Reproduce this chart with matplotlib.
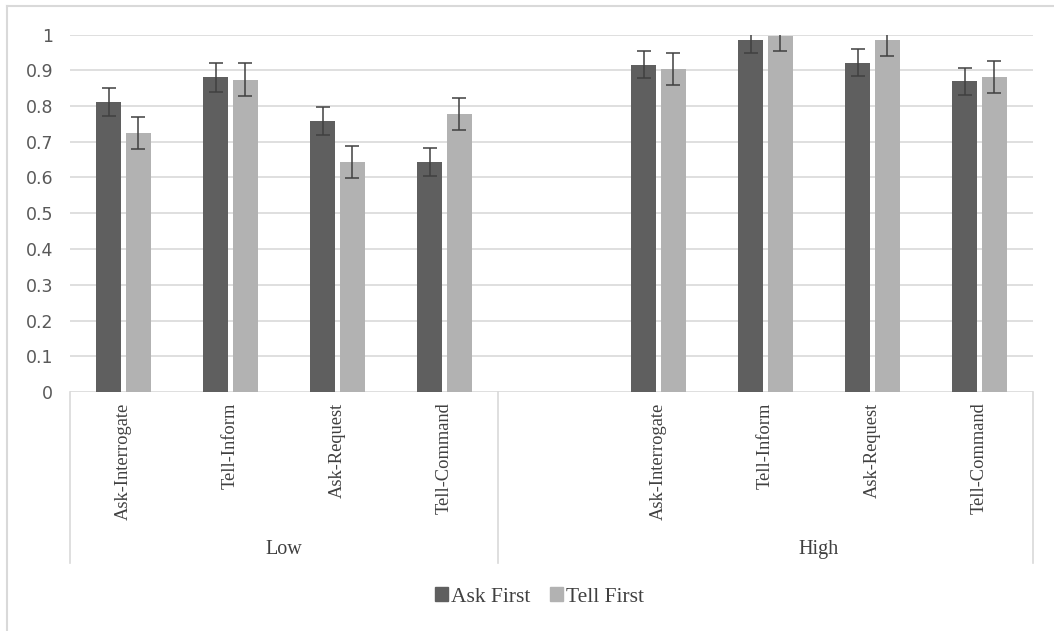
import numpy as np
import matplotlib.pyplot as plt
from matplotlib.patches import Patch
from matplotlib.lines import Line2D

# data
groups = ["Low", "High"]
conditions = ["Ask-Interrogate", "Tell-Inform", "Ask-Request", "Tell-Command"]
series_names = ["Ask First", "Tell First"]

low_ask = [0.81, 0.88, 0.758, 0.644]
low_tell = [0.725, 0.874, 0.644, 0.777]
high_ask = [0.915, 0.984, 0.921, 0.869]
high_tell = [0.904, 0.997, 0.984, 0.88]

low_ask_err = [0.039, 0.040, 0.040, 0.039]
low_tell_err = [0.044, 0.046, 0.044, 0.044]
high_ask_err = [0.038, 0.037, 0.038, 0.038]
high_tell_err = [0.044, 0.044, 0.043, 0.045]

dark = "#5f5f5f"
light = "#b2b2b2"
grid_col = "#d9d9d9"
err_col = "#404040"
serif = ["Liberation Serif", "DejaVu Serif"]

W, H = 1054, 631
fig = plt.figure(figsize=(W / 100, H / 100), dpi=100)
ax = fig.add_axes([70 / W, 1 - 392 / H, (1033 - 70) / W, (392 - 34.5) / H])

# 4 categories in Low, one empty slot, then 4 in High
x_low = np.arange(4)
x_high = np.arange(5, 9)
bw = 0.225
off = 0.14

ask_vals = low_ask + high_ask
tell_vals = low_tell + high_tell
ask_err = low_ask_err + high_ask_err
tell_err = low_tell_err + high_tell_err
xs = np.concatenate([x_low, x_high])

ax.bar(xs - off, ask_vals, bw, color=dark, zorder=2)
ax.bar(xs + off, tell_vals, bw, color=light, zorder=2)
ax.errorbar(xs - off, ask_vals, yerr=ask_err, fmt="none", ecolor=err_col,
            elinewidth=1.1, capsize=5, capthick=1.1, zorder=3)
ax.errorbar(xs + off, tell_vals, yerr=tell_err, fmt="none", ecolor=err_col,
            elinewidth=1.1, capsize=5, capthick=1.1, zorder=3)

ax.set_xlim(-0.5, 8.5)
ax.set_ylim(0, 1)
ax.set_yticks(np.arange(0, 1.01, 0.1))
ax.set_yticklabels(["0"] + [f"{v:.1f}" for v in np.arange(0.1, 0.95, 0.1)] + ["1"])
ax.tick_params(axis="y", length=0, pad=12, labelsize=12.5, labelcolor="#595959")
ax.set_xticks([])
for s in ax.spines.values():
    s.set_visible(False)
ax.yaxis.grid(True, color=grid_col, linewidth=1.2, zorder=0)
ax.set_axisbelow(True)

# multi-level category axis
tr = ax.get_xaxis_transform()
for x, lab in zip(xs, conditions + conditions):
    ax.text(x, -0.03, lab, transform=tr, rotation=90, ha="center", va="top",
            fontsize=13.3, family=serif, color="#404040")
ax.text(1.5, -0.44, groups[0], transform=tr, ha="center", va="center",
        fontsize=14.5, family=serif, color="#404040")
ax.text(6.5, -0.44, groups[1], transform=tr, ha="center", va="center",
        fontsize=14.5, family=serif, color="#404040")
for xv in [-0.5, 3.5, 8.5]:
    ax.plot([xv, xv], [0, -0.479], transform=tr, color=grid_col, lw=1.2,
            clip_on=False)

# outer chart border (only top and left visible)
fig.add_artist(Line2D([7 / W, 7 / W], [0, 1 - 6 / H], color=grid_col, lw=1.5))
fig.add_artist(Line2D([7 / W, 1], [1 - 6 / H, 1 - 6 / H], color=grid_col, lw=1.5))

handles = [Patch(color=dark, label=series_names[0]),
           Patch(color=light, label=series_names[1])]
fig.legend(handles=handles, loc="center", bbox_to_anchor=(0.512, 1 - 597 / H),
           ncol=2, frameon=False, handlelength=0.6, handleheight=0.6,
           handletextpad=0.15, columnspacing=0.9,
           prop={"family": serif, "size": 15.5}, labelcolor="#404040")

fig.savefig("out.png", dpi=100)
